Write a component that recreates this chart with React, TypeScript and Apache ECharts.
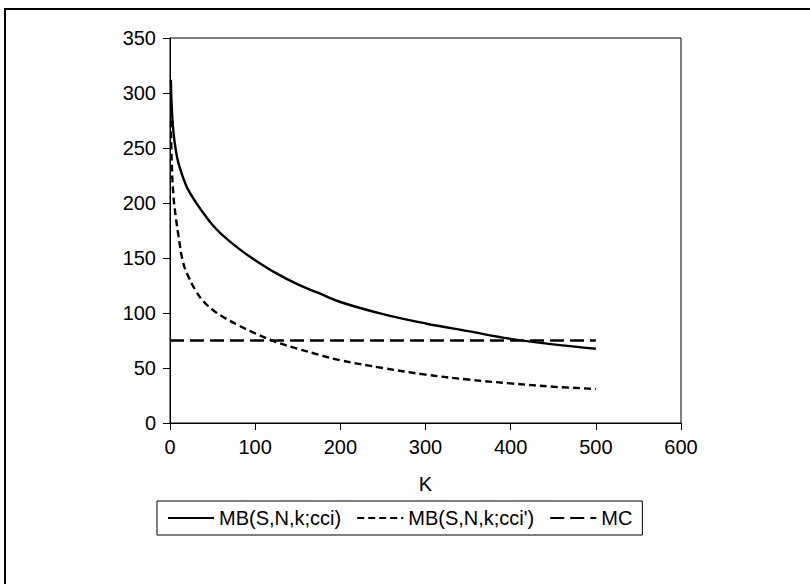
import React, { useEffect, useRef } from "react";
import * as echarts from "echarts";

const kValues = [1, 2, 4, 7, 10, 15, 20, 30, 40, 50, 60, 80, 100, 125, 150, 175, 200, 250, 300, 350, 400, 450, 500];
const mbCci = [312, 288, 265, 247, 236, 224, 214, 201, 190, 180, 172, 159, 148, 136, 126, 118, 110, 99, 90.5, 83.5, 76.5, 71.5, 67.5];
const mbCciPrime = [275, 238, 207, 186, 170, 147, 136, 120.5, 110, 103, 97.5, 89, 81.5, 73.5, 67.5, 62, 57, 50, 44, 39.5, 36, 33, 31];
const mcK = [0, 500];
const mcValues = [75, 75];

const seriesNames = ["MB(S,N,k;cci)", "MB(S,N,k;cci')", "MC"];
const xTicks = { min: 0, max: 600, interval: 100 };
const yTicks = { min: 0, max: 350, interval: 50 };

const FONT = "'Liberation Sans', Arial, sans-serif";

export default function App() {
  const ref = useRef<HTMLDivElement>(null);
  useEffect(() => {
    document.body.style.margin = "0";
    if (!ref.current) return;
    const chart = echarts.init(ref.current, null, { renderer: "svg" });
    const pairs = (xs: number[], ys: number[]) => xs.map((x, i) => [x, ys[i]]);
    chart.setOption({
      animation: false,
      backgroundColor: "#fff",
      textStyle: { fontFamily: FONT, color: "#000" },
      graphic: [
        {
          type: "rect",
          shape: { x: 5, y: 9, width: 1000, height: 1000 },
          style: { fill: "none", stroke: "#000", lineWidth: 2 },
          silent: true,
        },
      ],
      grid: {
        left: 170,
        top: 38,
        right: 129,
        bottom: 161,
        show: true,
        borderColor: "#000",
        borderWidth: 1,
        backgroundColor: "transparent",
      },
      legend: {
        left: 157,
        top: 501,
        padding: [7, 10],
        itemGap: 15,
        itemWidth: 46,
        itemHeight: 14,
        borderColor: "#000",
        borderWidth: 1,
        borderRadius: 0,
        itemStyle: { color: "transparent", borderColor: "transparent", borderWidth: 0, opacity: 0 },
        textStyle: { fontSize: 20, color: "#000", fontFamily: FONT },
        data: seriesNames,
      },
      xAxis: {
        type: "value",
        min: xTicks.min,
        max: xTicks.max,
        interval: xTicks.interval,
        name: "K",
        nameLocation: "middle",
        nameGap: 51,
        nameTextStyle: { fontSize: 20, color: "#000", fontFamily: FONT },
        axisLine: { show: true, lineStyle: { color: "#000", width: 1 } },
        axisTick: { show: true, length: 7, lineStyle: { color: "#000" } },
        axisLabel: { fontSize: 20, color: "#000", margin: 14, fontFamily: FONT },
        splitLine: { show: false },
      },
      yAxis: {
        type: "value",
        min: yTicks.min,
        max: yTicks.max,
        interval: yTicks.interval,
        axisLine: { show: true, lineStyle: { color: "#000", width: 1 } },
        axisTick: { show: true, length: 7, lineStyle: { color: "#000" } },
        axisLabel: { fontSize: 20, color: "#000", margin: 14, fontFamily: FONT },
        splitLine: { show: false },
      },
      series: [
        {
          name: seriesNames[0],
          type: "line",
          data: pairs(kValues, mbCci),
          showSymbol: false,
          symbol: "none",
          smooth: 0.4,
          lineStyle: { color: "#000", width: 2.4, type: "solid" },
          itemStyle: { color: "#000" },
        },
        {
          name: seriesNames[1],
          type: "line",
          data: pairs(kValues, mbCciPrime),
          showSymbol: false,
          symbol: "none",
          smooth: 0.4,
          lineStyle: { color: "#000", width: 2.4, type: [7, 4] },
          itemStyle: { color: "#000" },
        },
        {
          name: seriesNames[2],
          type: "line",
          data: pairs(mcK, mcValues),
          showSymbol: false,
          symbol: "none",
          lineStyle: { color: "#000", width: 2.4, type: [14, 6] },
          itemStyle: { color: "#000" },
        },
      ],
    });
    return () => chart.dispose();
  }, []);
  return <div ref={ref} style={{ width: 810, height: 584 }} />;
}
